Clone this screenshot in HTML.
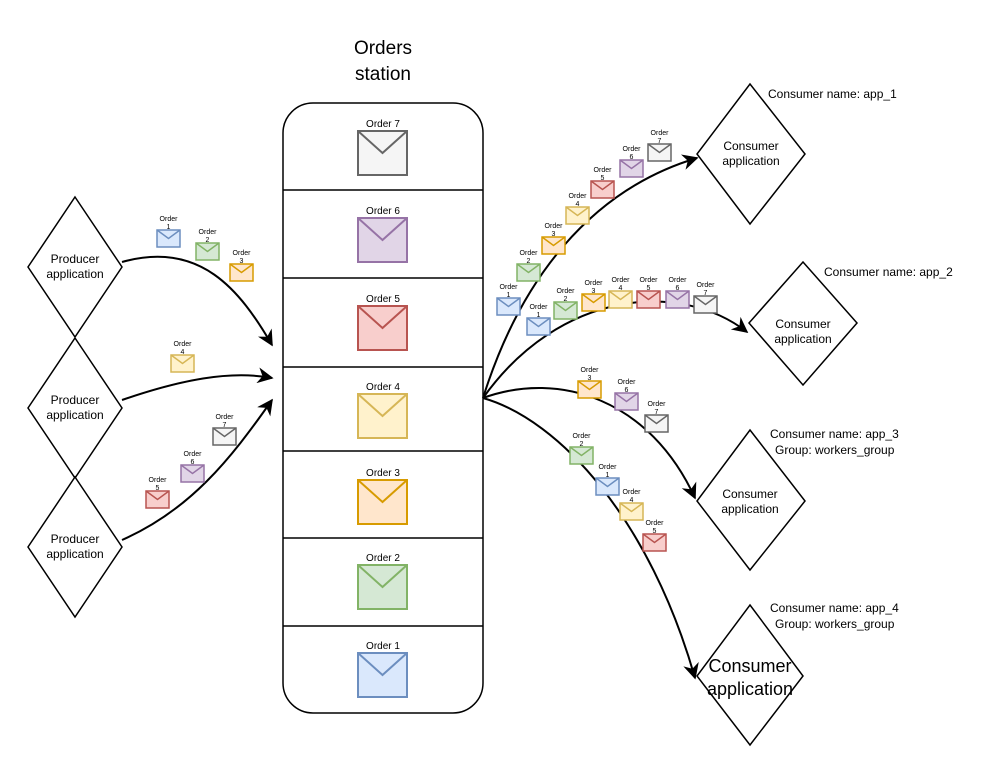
<!DOCTYPE html>
<html><head><meta charset="utf-8"><style>
html,body{margin:0;padding:0;background:#fff;}
svg{display:block;font-family:"Liberation Sans",Arial,sans-serif;}
</style></head><body>
<svg id="s" width="984" height="774" viewBox="0 0 984 774" xmlns="http://www.w3.org/2000/svg">
<defs><marker id="a" viewBox="0 0 10 10" refX="9" refY="5" markerWidth="7" markerHeight="7" orient="auto" markerUnits="userSpaceOnUse"><path d="M0,0 L10,5 L0,10 L3,5 z" fill="#000"/></marker>
<marker id="ar" viewBox="0 0 10 10" refX="9" refY="5" markerWidth="16" markerHeight="16" orient="auto-start-reverse" markerUnits="userSpaceOnUse"><path d="M0,0 L10,5 L0,10 L3,5 z" fill="#000"/></marker></defs>
<text x="383" y="54" font-size="19" text-anchor="middle">Orders</text>
<text x="383" y="80" font-size="19" text-anchor="middle">station</text>
<rect x="283" y="103" width="200" height="610" rx="30" fill="#fff" stroke="#000" stroke-width="1.5"/>
<g stroke="#000" stroke-width="1.5">
<line x1="283" y1="190" x2="483" y2="190"/><line x1="283" y1="278" x2="483" y2="278"/><line x1="283" y1="367" x2="483" y2="367"/><line x1="283" y1="451" x2="483" y2="451"/><line x1="283" y1="538" x2="483" y2="538"/><line x1="283" y1="626" x2="483" y2="626"/>
</g>
<g fill="#fff" stroke="#000" stroke-width="1.5">
<polygon points="75,197 122,267 75,337 28,267"/>
<polygon points="75,338 122,408 75,478 28,408"/>
<polygon points="75,477 122,547 75,617 28,547"/>
<polygon points="750,84 805,154 750,224 697,154"/>
<polygon points="803,262 857,323 803,385 749,323"/>
<polygon points="750,430 805,501 750,570 697,501"/>
<polygon points="750,605 803,676 750,745 697,676"/>
</g>
<g font-size="12" text-anchor="middle">
<text x="75" y="263">Producer</text><text x="75" y="278">application</text>
<text x="75" y="404">Producer</text><text x="75" y="419">application</text>
<text x="75" y="543">Producer</text><text x="75" y="558">application</text>
<text x="751" y="150">Consumer</text><text x="751" y="165">application</text>
<text x="803" y="328">Consumer</text><text x="803" y="343">application</text>
<text x="750" y="498">Consumer</text><text x="750" y="513">application</text>
</g>
<text x="750" y="672" font-size="18" text-anchor="middle">Consumer</text>
<text x="750" y="695" font-size="18" text-anchor="middle">application</text>
<g font-size="12">
<text x="768" y="98">Consumer name: app_1</text>
<text x="824" y="276">Consumer name: app_2</text>
<text x="770" y="438">Consumer name: app_3</text><text x="775" y="454">Group: workers_group</text>
<text x="770" y="612">Consumer name: app_4</text><text x="775" y="628">Group: workers_group</text>
</g>
<g fill="none" stroke="#000" stroke-width="2" marker-end="url(#ar)">
<path d="M122,262 C200,240 240,290 272,345"/>
<path d="M122,400 C180,380 230,370 272,378"/>
<path d="M122,540 C190,510 230,460 272,400"/>
<path d="M483,398 C520,280 590,190 697,158"/>
<path d="M483,398 C560,290 680,280 747,332"/>
<path d="M483,398 C560,370 650,400 695,498"/>
<path d="M483,398 C560,420 650,520 695,678"/>
</g>
<g id="env"></g>
</svg>
<script>
var C={1:["#dae8fc","#6c8ebf"],2:["#d5e8d4","#82b366"],3:["#ffe6cc","#d79b00"],4:["#fff2cc","#d6b656"],5:["#f8cecc","#b85450"],6:["#e1d5e7","#9673a6"],7:["#f5f5f5","#666666"]};
var g=document.getElementById("env"),h="";
function env(x,y,w,hh,n,sw){var c=C[n];return '<rect x="'+x+'" y="'+y+'" width="'+w+'" height="'+hh+'" fill="'+c[0]+'" stroke="'+c[1]+'" stroke-width="'+sw+'"/><polyline points="'+x+','+y+' '+(x+w/2)+','+(y+hh*0.5)+' '+(x+w)+','+y+'" fill="none" stroke="'+c[1]+'" stroke-width="'+sw+'"/>';}
var big=[[7,131],[6,218],[5,306],[4,394],[3,480],[2,565],[1,653]];
big.forEach(function(b){h+=env(358,b[1],49,44,b[0],2);h+='<text x="383" y="'+(b[1]-4)+'" font-size="10" text-anchor="middle">Order '+b[0]+'</text>';});
var sm=[[1,157,230],[2,196,243],[3,230,264],[4,171,355],[7,213,428],[6,181,465],[5,146,491],
[1,497,298],[2,517,264],[3,542,237],[4,566,207],[5,591,181],[6,620,160],[7,648,144],
[1,527,318],[2,554,302],[3,582,294],[4,609,291],[5,637,291],[6,666,291],[7,694,296],
[3,578,381],[6,615,393],[7,645,415],[2,570,447],[1,596,478],[4,620,503],[5,643,534]];
sm.forEach(function(s){h+=env(s[1],s[2],23,17,s[0],1.5);var cx=s[1]+11.5;h+='<text x="'+cx+'" y="'+(s[2]-9)+'" font-size="7" text-anchor="middle">Order</text><text x="'+cx+'" y="'+(s[2]-1)+'" font-size="7" text-anchor="middle">'+s[0]+'</text>';});
g.innerHTML=h;
</script>
</body></html>
